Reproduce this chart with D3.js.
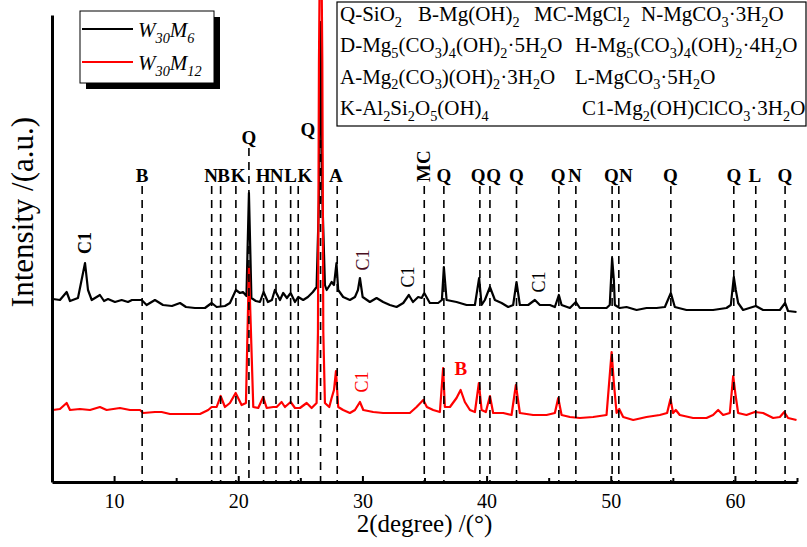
<!DOCTYPE html>
<html><head><meta charset="utf-8">
<script src="https://cdn.jsdelivr.net/npm/d3@7"></script>
<style>body{margin:0;background:#fff} text{font-family:"Liberation Serif","Times New Roman",serif}</style>
</head><body><svg id="c" width="807" height="547"></svg>
<script>
// ---- data ----
const seriesNames = ["W_{30}M_6", "W_{30}M_{12}"];
const twoTheta_M6 = [5.08,5.64,6.18,6.45,7.09,7.66,7.90,8.20,8.86,9.19,9.51,10.07,10.61,11.12,11.44,12.22,12.62,13.29,13.94,14.66,15.31,15.79,16.51,17.32,17.86,18.26,18.93,19.33,19.81,20.14,20.38,20.66,20.86,21.06,21.42,21.75,22.04,22.39,22.71,22.95,23.36,23.62,23.92,24.22,24.57,24.83,25.23,25.61,26.01,26.31,26.50,26.63,26.78,26.98,27.12,27.38,27.52,27.71,27.91,28.05,28.45,28.99,29.40,29.64,29.80,30.02,30.60,31.14,31.67,32.21,32.75,33.29,33.74,34.07,34.49,34.77,34.98,35.43,36.10,36.40,36.56,36.78,37.58,38.39,39.06,39.40,39.60,39.86,40.27,40.67,41.21,41.74,42.14,42.41,42.68,43.35,43.89,44.29,45.10,45.50,45.82,46.04,46.71,47.19,47.51,48.58,49.66,49.92,50.11,50.25,50.33,50.73,51.27,52.08,52.88,53.69,54.36,54.84,55.16,56.10,57.17,58.24,59.32,59.67,59.91,60.07,60.26,60.66,61.68,62.27,63.08,63.62,64.04,64.28,64.96];
const intensity_M6 = [183,182,190,181,184,219,192,182,187,181,183,180,182,180,182,182,177,182,177,176,179,175,174,174,179,175,176,179,192,189,190,186,289,184,181,180,190,180,182,192,182,189,184,189,180,185,182,185,190,195,282,460,282,197,192,197,200,197,219,192,185,182,185,192,204,185,180,184,180,177,175,179,187,180,185,184,189,179,179,182,215,182,180,177,177,204,177,182,195,182,179,175,177,200,177,177,182,177,177,175,187,177,174,180,174,174,174,177,224,202,177,174,175,172,174,174,175,189,175,172,172,172,174,177,205,192,179,172,176,172,172,172,179,171,170];
const twoTheta_M12 = [5.08,5.64,6.18,6.45,7.25,8.06,8.86,9.40,10.47,11.28,12.09,12.35,13.29,13.83,14.50,15.57,16.92,17.58,17.86,18.26,18.58,18.93,19.33,19.79,20.27,20.62,20.86,21.21,21.61,22.01,22.29,22.82,23.09,23.49,23.76,24.22,24.57,24.97,25.51,25.91,26.31,26.42,26.50,26.55,26.72,26.77,26.85,26.98,27.33,27.52,27.71,27.87,28.05,28.45,28.99,29.40,29.80,30.07,30.87,31.67,33.02,33.82,34.36,34.90,35.19,35.70,36.24,36.50,36.64,37.05,37.58,37.91,38.25,38.66,39.06,39.38,39.60,39.94,40.27,40.53,41.34,42.01,42.36,42.68,43.75,44.83,45.50,45.77,46.04,46.71,47.51,48.58,49.66,50.07,50.25,50.47,50.68,51.00,51.81,52.88,53.95,54.54,54.81,55.02,55.24,55.56,56.63,57.71,58.24,58.65,59.05,59.59,59.86,60.05,60.26,60.93,61.60,62.27,63.08,63.62,63.97,64.28,64.96];
const intensity_M12 = [72,73,79,72,73,72,75,72,74,72,72,69,70,70,68,68,68,72,75,75,86,75,79,89,77,79,215,75,74,85,74,75,75,80,75,80,74,74,79,74,79,150,420,495,495,420,150,79,75,84,92,111,75,72,69,72,80,72,70,69,69,69,75,82,75,72,70,114,75,75,84,92,80,72,70,99,72,70,86,69,69,67,97,69,67,67,69,84,67,65,64,65,67,130,99,69,73,65,62,65,67,69,83,69,72,67,64,64,67,72,67,69,106,87,69,67,70,69,64,65,70,64,62];
const xTicks = [10, 20, 30, 40, 50, 60];
const xMinorTicks = [15, 25, 35, 45, 55, 65];
// reference (dashed) lines: phase letter, 2θ of line, 2θ of label centre, label level (intensity units)
const refLetters = ["B","N","B","K","Q","H","N","L","K","Q","A","MC","Q","Q","Q","Q","Q","N","Q","N","Q","Q","L","Q"];
const refTheta   = [12.26,17.86,18.58,19.81,20.86,22.04,23.04,24.22,24.83,26.63,27.97,34.98,36.56,39.46,40.27,42.41,45.82,47.19,50.11,50.65,54.84,59.91,61.68,64.04];
const refLabelTheta = [12.26,17.82,18.81,20.0,20.86,22.01,23.09,24.22,25.37,25.61,27.87,34.98,36.56,39.33,40.57,42.41,45.77,47.11,50.05,51.22,54.81,59.91,61.60,64.02];
const refTopLevel = [296,296,296,296,334,296,296,296,296,342,296,296,296,296,296,296,296,296,296,296,296,296,296,296];
// extra annotations: text, 2θ, intensity level
const annText  = ["C1","C1","C1","C1","C1","B"];
const annTheta = [7.66,30.04,33.66,44.21,29.96,37.93];
const annLevel = [239,222,205,200,100,114];
const phaseLegend = [
  ["Q-SiO_2","B-Mg(OH)_2","MC-MgCl_2","N-MgCO_3·3H_2O"],
  ["D-Mg_5(CO_3)_4(OH)_2·5H_2O","H-Mg_5(CO_3)_4(OH)_2·4H_2O"],
  ["A-Mg_2(CO_3)(OH)_2·3H_2O","L-MgCO_3·5H_2O"],
  ["K-Al_2Si_2O_5(OH)_4","C1-Mg_2(OH)ClCO_3·3H_2O"]
];
const xTitle = "2(degree) /(°)";
const yTitle = "Intensity /(a.u.)";

// ---- drawing ----
const svg = d3.select("#c");
const x = d3.scaleLinear().domain([5, 65]).range([52, 797]);
const y = d3.scaleLinear().domain([0, 467]).range([482, 15]);
const colors = ["#000000", "#ff0000"];

function rich(sel, str, size) {
  const parts = str.split(/(_\{[^}]*\}|_.)/).filter(s => s.length);
  let sub = false;
  parts.forEach(p => {
    if (p[0] === "_") {
      const t = p[1] === "{" ? p.slice(2, -1) : p.slice(1);
      sel.append("tspan").attr("dy", sub ? 0 : size * 0.28).attr("font-size", size * 0.68).text(t);
      sub = true;
    } else {
      sel.append("tspan").attr("dy", sub ? -size * 0.28 : 0).text(p);
      sub = false;
    }
  });
}

const line = d3.line().x(d => x(d[0])).y(d => y(d[1]));
const d6 = twoTheta_M6.map((t, i) => [t, intensity_M6[i]]);
const d12 = twoTheta_M12.map((t, i) => [t, intensity_M12[i]]);
svg.append("path").datum(d6).attr("d", line).attr("fill", "none").attr("stroke", colors[0]).attr("stroke-width", 2.2).attr("stroke-linejoin", "round");
svg.append("path").datum(d12).attr("d", line).attr("fill", "none").attr("stroke", colors[1]).attr("stroke-width", 2.2).attr("stroke-linejoin", "round");

// dashed reference lines
refTheta.forEach((t, i) => {
  svg.append("line").attr("x1", x(t)).attr("x2", x(t)).attr("y1", y(refTopLevel[i])).attr("y2", y(0))
    .attr("stroke", "#000").attr("stroke-width", 1.6).attr("stroke-dasharray", "8,6");
  if (refLetters[i] === "MC") {
    svg.append("text").attr("transform", `translate(${x(t) + 6},${y(refTopLevel[i]) - 4}) rotate(-90)`)
      .attr("font-size", 19).attr("font-weight", "bold").text("MC");
  } else {
    svg.append("text").attr("x", x(refLabelTheta[i])).attr("y", y(refTopLevel[i]) - 4)
      .attr("text-anchor", "middle").attr("font-size", 19).attr("font-weight", "bold").text(refLetters[i]);
  }
});

// annotations
const annColor = ["#000", "#4a0f1f", "#000", "#000", "#ff0000", "#ff0000"];
const annWeight = ["bold", "normal", "normal", "normal", "normal", "bold"];
annText.forEach((s, i) => {
  if (s === "B") {
    svg.append("text").attr("x", x(annTheta[i])).attr("y", y(annLevel[i]) + 7).attr("text-anchor", "middle")
      .attr("font-size", 19).attr("font-weight", "bold").attr("fill", annColor[i]).text(s);
  } else {
    svg.append("text").attr("transform", `translate(${x(annTheta[i]) + 6},${y(annLevel[i])}) rotate(-90)`)
      .attr("text-anchor", "middle").attr("font-size", 18).attr("font-weight", annWeight[i]).attr("fill", annColor[i]).text(s);
  }
});

// axes
const gx = svg.append("g").attr("transform", `translate(0,${y(0)})`)
  .call(d3.axisBottom(x).tickValues(xTicks).tickSize(-6).tickSizeOuter(0).tickPadding(12).tickFormat(d3.format("d")));
gx.select(".domain").attr("stroke-width", 3);
gx.selectAll(".tick line").attr("stroke-width", 2);
gx.selectAll(".tick text").attr("font-size", 20).attr("font-family", "Liberation Serif");
const gm = svg.append("g").attr("transform", `translate(0,${y(0)})`)
  .call(d3.axisBottom(x).tickValues(xMinorTicks).tickSize(-4).tickFormat(""));
gm.select(".domain").remove();
gm.selectAll(".tick line").attr("stroke-width", 2);
const gy = svg.append("g").attr("transform", `translate(${x(5)},0)`)
  .call(d3.axisLeft(y).tickValues([]).tickSizeOuter(0));
gy.select(".domain").attr("stroke-width", 3);

svg.append("text").attr("x", (x(5) + x(65)) / 2).attr("y", 532).attr("text-anchor", "middle").attr("font-size", 25).text(xTitle);
svg.append("text").attr("transform", "translate(33,212) rotate(-90)").attr("text-anchor", "middle").attr("font-size", 31).text(yTitle);

// series legend
svg.append("rect").attr("x", 86).attr("y", 17).attr("width", 134).attr("height", 72).attr("fill", "#000");
svg.append("rect").attr("x", 80).attr("y", 11).attr("width", 134).attr("height", 72).attr("fill", "#fff").attr("stroke", "#000").attr("stroke-width", 1);
seriesNames.forEach((n, i) => {
  const yy = 29 + i * 33;
  svg.append("line").attr("x1", 82).attr("x2", 133).attr("y1", yy).attr("y2", yy).attr("stroke", colors[i]).attr("stroke-width", 2);
  const t = svg.append("text").attr("x", 138).attr("y", yy + 8).attr("font-size", 21).attr("font-style", "italic");
  rich(t, n, 21);
});

// phase legend
svg.append("rect").attr("x", 337).attr("y", 2).attr("width", 469).attr("height", 124).attr("fill", "#fff").attr("stroke", "#000").attr("stroke-width", 1.2);
const colX = [[340, 418, 534, 641], [340, 575], [340, 575], [340, 582]];
phaseLegend.forEach((row, r) => {
  row.forEach((s, c) => {
    const t = svg.append("text").attr("x", colX[r][c]).attr("y", 21 + r * 31.3).attr("font-size", 21);
    rich(t, s, 21);
  });
});
</script></body></html>
